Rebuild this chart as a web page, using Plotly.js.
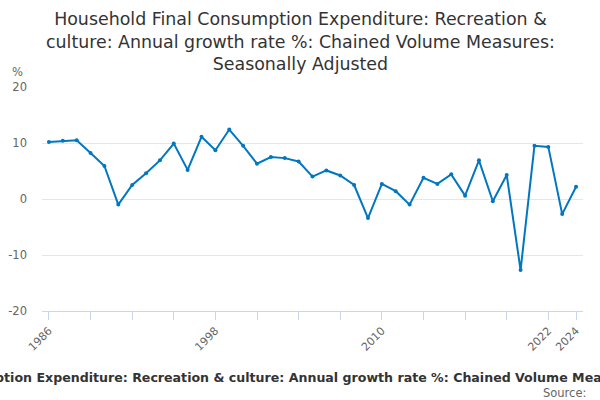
<!DOCTYPE html>
<html>
<head>
<meta charset="utf-8">
<script src="https://cdn.plot.ly/plotly-3.0.1.min.js"></script>
<style>html,body{margin:0;padding:0;background:#fff;}#chart{width:600px;height:400px;}</style>
</head>
<body>
<div id="chart"></div>
<script>
const years = [1986,1987,1988,1989,1990,1991,1992,1993,1994,1995,1996,1997,1998,1999,2000,2001,2002,2003,2004,2005,2006,2007,2008,2009,2010,2011,2012,2013,2014,2015,2016,2017,2018,2019,2020,2021,2022,2023,2024];
const growth = [10.2,10.4,10.5,8.2,5.9,-1.0,2.5,4.6,6.9,9.9,5.2,11.1,8.7,12.4,9.5,6.3,7.5,7.3,6.7,4.0,5.1,4.2,2.5,-3.4,2.7,1.4,-1.0,3.8,2.7,4.4,0.6,6.9,-0.4,4.3,-12.7,9.5,9.3,-2.7,2.2];
const tickYears = [1986,1989,1992,1995,1998,2001,2004,2007,2010,2013,2016,2019,2022,2024];
const tickLabels = ["1986","","","","1998","","","","2010","","","","2022","2024"];
const yTicks = [-20,-10,0,10,20];
const yTickLabels = ["-20","-10","0","10","20"];

const titleText = "Household Final Consumption Expenditure: Recreation &<br>culture: Annual growth rate %: Chained Volume Measures:<br>Seasonally Adjusted";
const axisTitle = "Household Final Consumption Expenditure: Recreation & culture: Annual growth rate %: Chained Volume Measures: Seasonally Adjusted";

const trace = {
  x: years, y: growth, type: 'scatter', mode: 'lines+markers',
  line: {color: '#0077c0', width: 2},
  marker: {color: '#0077c0', size: 4},
  hoverinfo: 'x+y'
};

const layout = {
  width: 600, height: 400,
  margin: {l: 42, r: 17, t: 87, b: 89},
  paper_bgcolor: '#fff', plot_bgcolor: '#fff',
  font: {family: 'DejaVu Sans, sans-serif', color: '#666'},
  showlegend: false,
  xaxis: {
    range: [1985.5, 2024.5], tickmode: 'array', tickvals: tickYears, ticktext: tickLabels,
    tickangle: -45, ticks: 'outside', ticklen: 8, tickcolor: '#ccd6eb', tickwidth: 1,
    showline: true, linecolor: '#ccd6eb', linewidth: 1, showgrid: false, zeroline: false,
    tickfont: {size: 11, color: '#666'}
  },
  yaxis: {
    range: [-20, 20], tickmode: 'array', tickvals: yTicks, ticktext: yTickLabels, showgrid: true, gridcolor: '#e6e6e6',
    zeroline: false, showline: false, ticks: '', tickfont: {size: 11.5, color: '#666'}, ticklabelstandoff: 14
  },
  annotations: [
    {text: titleText, xref: 'paper', yref: 'paper', x: (300 - 42) / 541, y: 1, xanchor: 'center', yanchor: 'top', yshift: 80, showarrow: false, align: 'center', font: {size: 17.4, color: '#333'}},
    {text: '%', xref: 'paper', yref: 'paper', x: -0.06, y: 1.0, xanchor: 'left', yanchor: 'bottom', yshift: 6, showarrow: false, font: {size: 11.5, color: '#666'}},
    {text: '<b>' + axisTitle + '</b>', xref: 'paper', yref: 'paper', x: (307 - 42) / 541, y: 0, xanchor: 'center', yanchor: 'middle', yshift: -66, showarrow: false, font: {size: 12.6, color: '#333'}},
    {text: 'Source:', xref: 'paper', yref: 'paper', x: 1.0, y: 0, xanchor: 'right', yanchor: 'middle', yshift: -82, xshift: 5, showarrow: false, font: {size: 11.5, color: '#666'}}
  ]
};

Plotly.newPlot('chart', [trace], layout, {displayModeBar: false, staticPlot: true});
</script>
</body>
</html>
